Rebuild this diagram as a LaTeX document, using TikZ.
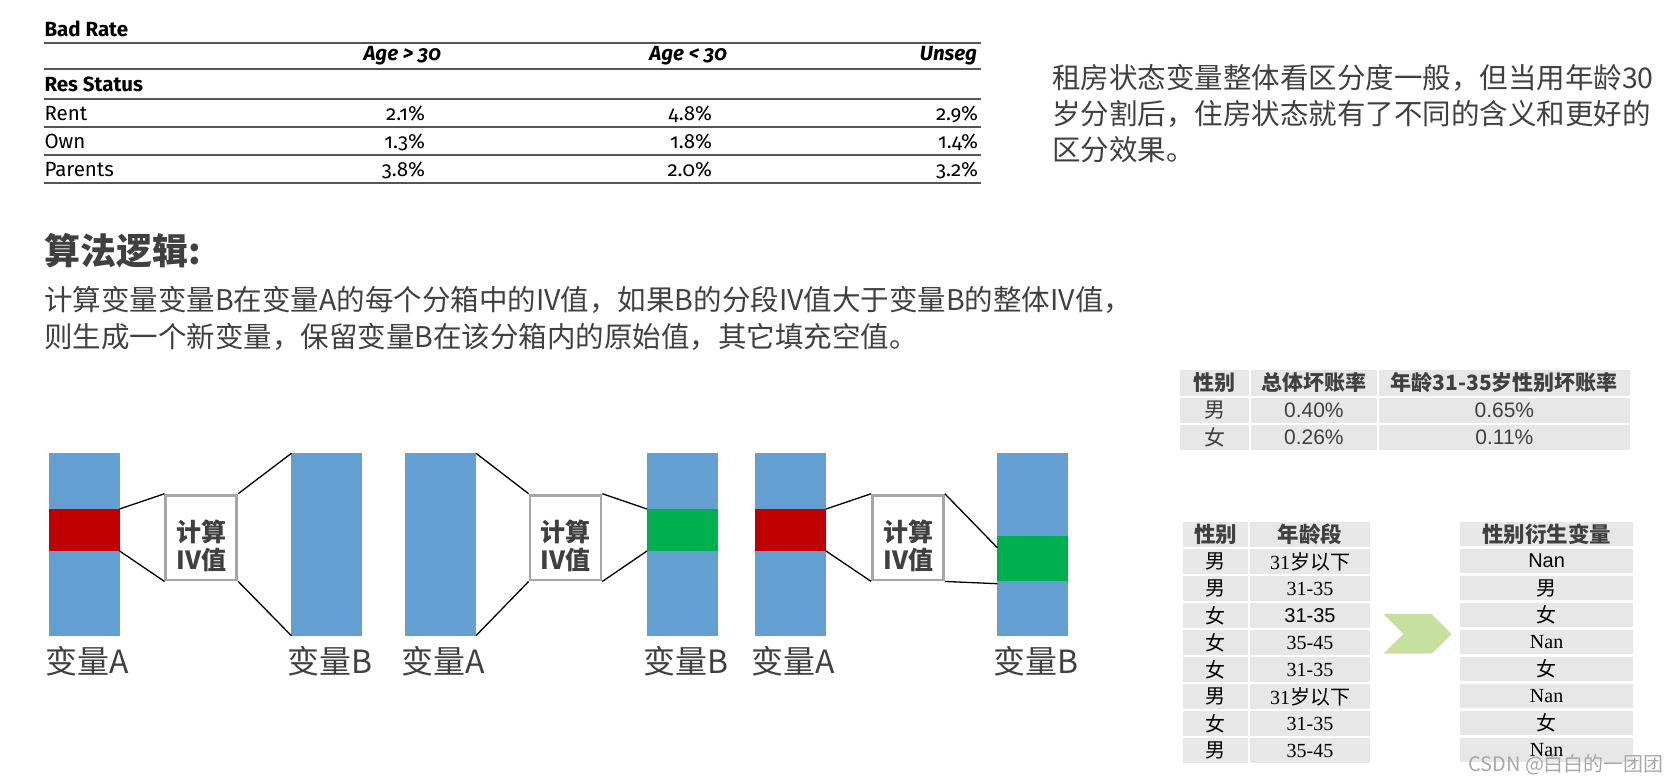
\documentclass[tikz,border=0pt]{standalone}
\usepackage{fontspec}
\setmainfont{Noto Sans CJK SC}
\newfontfamily\cjk{Noto Sans CJK SC}
\newfontfamily\fira[Numbers=OldStyle]{Fira Sans}
\newfontfamily\arl{Liberation Sans}
\newfontfamily\tnr{Liberation Serif}
\newcommand\myfs[1]{\fontsize{#1}{#1}\selectfont}
\definecolor{txt}{HTML}{404040}
\definecolor{barblue}{HTML}{639FD1}
\definecolor{barred}{HTML}{C00000}
\definecolor{bargreen}{HTML}{00B050}
\definecolor{boxgray}{HTML}{A6A6A6}
\definecolor{cellgray}{HTML}{E7E7E7}
\definecolor{rulegray}{HTML}{555555}
\definecolor{chev}{HTML}{C6E0A0}
\definecolor{wm}{HTML}{A8A8A8}
\begin{document}
\begin{tikzpicture}[x=1pt,y=-1pt,
  tt/.style={inner sep=0pt, outer sep=0pt, text=black, font=\fira\myfs{20.5}},
  tth/.style={tt, font=\fira\bfseries\myfs{20.5}},
  tthi/.style={tt, font=\fira\bfseries\itshape\myfs{20.5}},
  rule/.style={draw=rulegray, line width=1.8pt},
  cn/.style={inner sep=0pt, outer sep=0pt, text=txt, font=\cjk\myfs{28.5}},
  bar/.style={fill=barblue, inner sep=0pt, outer sep=0pt, minimum width=71pt, minimum height=182.4pt, anchor=north west},
  seg/.style={inner sep=0pt, outer sep=0pt, minimum width=71pt, minimum height=42pt, anchor=north west},
  ivbox/.style={draw=boxgray, line width=2.8pt, fill=white, minimum width=70.9pt, minimum height=84.9pt, inner sep=0pt},
  ivtext/.style={inner sep=0pt, align=center, text=txt, font=\cjk\bfseries\fontsize{25}{28.5}\selectfont},
  varlbl/.style={inner sep=0pt, anchor=base west, text=txt, font=\cjk\myfs{32}},
  conn/.style={draw=black, line width=1.3pt},
  cell/.style={fill=cellgray, inner sep=0pt, outer sep=0pt, minimum height=24.6pt, text=black, font=\cjk\myfs{20}},
  hcell/.style={cell, text=txt, font=\cjk\bfseries\myfs{21}},
  c1cell/.style={cell, text=txt, font=\cjk\myfs{21}, minimum height=25pt}
]
\useasboundingbox (0,0) rectangle (1673,783);

% ---------------- top table ----------------
\node[tth, anchor=base west] (badrate) at (44.5,37) {Bad Rate};
\draw[rule] (44,43.3) -- (981,43.3);
\node[tthi, anchor=base east] (hage1) at (441,60.5) {Age > 30};
\node[tthi, anchor=base east] (hage2) at (727,60.5) {Age < 30};
\node[tthi, anchor=base east] (hunseg) at (977,60.5) {Unseg};
\draw[rule] (44,69.3) -- (981,69.3);
\node[tth, anchor=base west] (resstatus) at (44.5,91.5) {Res Status};
\draw[rule] (44,99) -- (981,99);
\node[tt, anchor=base west] (rent) at (44.5,120.5) {Rent};
\node[tt, anchor=base east] (v11) at (425,120.5) {2.1\%};
\node[tt, anchor=base east] (v12) at (712,120.5) {4.8\%};
\node[tt, anchor=base east] (v13) at (978,120.5) {2.9\%};
\draw[rule] (44,126.7) -- (981,126.7);
\node[tt, anchor=base west] (own) at (44.5,148.3) {Own};
\node[tt, anchor=base east] (v21) at (425,148.3) {1.3\%};
\node[tt, anchor=base east] (v22) at (712,148.3) {1.8\%};
\node[tt, anchor=base east] (v23) at (978,148.3) {1.4\%};
\draw[rule] (44,155) -- (981,155);
\node[tt, anchor=base west] (parents) at (44.5,176.5) {Parents};
\node[tt, anchor=base east] (v31) at (425,176.5) {3.8\%};
\node[tt, anchor=base east] (v32) at (712,176.5) {2.0\%};
\node[tt, anchor=base east] (v33) at (978,176.5) {3.2\%};
\draw[rule] (44,182.7) -- (981,182.7);

% ---------------- right note ----------------
\node[cn, anchor=base west] (note1) at (1052,88.3) {租房状态变量整体看区分度一般，但当用年龄30};
\node[cn, anchor=base west] (note2) at (1052,124.8) {岁分割后，住房状态就有了不同的含义和更好的};
\node[cn, anchor=base west] (note3) at (1052,160.8) {区分效果。};

% ---------------- heading and description ----------------
\node[inner sep=0pt, anchor=base west, text=txt, font=\cjk\bfseries\myfs{36}] (head) at (44,264.5) {算法逻辑:};
\node[cn, anchor=base west] (desc1) at (44,310.5) {计算变量变量B在变量A的每个分箱中的IV值，如果B的分段IV值大于变量B的整体IV值，};
\node[cn, anchor=base west] (desc2) at (44,347.5) {则生成一个新变量，保留变量B在该分箱内的原始值，其它填充空值。};

% ---------------- bars ----------------
\node[bar] (a1) at (48.6,453.3) {};
\node[seg, fill=barred] (a1s) at (48.6,509) {};
\node[bar] (bb1) at (291.4,453.3) {};
\node[bar] (a2) at (405,453.3) {};
\node[bar] (bb2) at (647,453.3) {};
\node[seg, fill=bargreen] (bb2s) at (647,509) {};
\node[bar] (a3) at (755,453.3) {};
\node[seg, fill=barred] (a3s) at (755,509) {};
\node[bar] (bb3) at (997.3,453.3) {};
\node[seg, fill=bargreen, minimum height=44.7pt] (bb3s) at (997.3,536) {};

\coordinate (bb3p) at (997.3,547.7);
\coordinate (bb3q) at (997.3,583.7);

% boxes
\node[ivbox] (box1) at (201.3,537.6) {};
\node[ivbox] (box2) at (565.5,537.6) {};
\node[ivbox] (box3) at (908,537.6) {};
\node[ivtext] (box1t) at (201.5,546) {计算\\IV值};
\node[ivtext] (box2t) at (565.7,546) {计算\\IV值};
\node[ivtext] (box3t) at (908.2,546) {计算\\IV值};

% connectors
\draw[conn] (a1s.north east) -- (box1.north west);
\draw[conn] (a1s.south east) -- (box1.south west);
\draw[conn] (box1.north east) -- (bb1.north west);
\draw[conn] (box1.south east) -- (bb1.south west);
\draw[conn] (a2.north east) -- (box2.north west);
\draw[conn] (a2.south east) -- (box2.south west);
\draw[conn] (box2.north east) -- (bb2s.north west);
\draw[conn] (box2.south east) -- (bb2s.south west);
\draw[conn] (a3s.north east) -- (box3.north west);
\draw[conn] (a3s.south east) -- (box3.south west);
\draw[conn] (box3.north east) -- (bb3p);
\draw[conn] (box3.south east) -- (bb3q);

% labels
\node[varlbl] (la1) at (45,673.5) {变量A};
\node[varlbl] (lb1) at (287.5,673.5) {变量B};
\node[varlbl] (la2) at (401,673.5) {变量A};
\node[varlbl] (lb2) at (643,673.5) {变量B};
\node[varlbl] (la3) at (751,673.5) {变量A};
\node[varlbl] (lb3) at (993.5,673.5) {变量B};

% ---------------- table 1 ----------------
\node[hcell, minimum width=69pt, minimum height=25.7pt] (t1h1) at (1214.5,382.85) {性别};
\node[hcell, minimum width=125.7pt, minimum height=25.7pt] (t1h2) at (1313.85,382.85) {总体坏账率};
\node[hcell, minimum width=251.3pt, minimum height=25.7pt] (t1h3) at (1504.35,382.85) {年龄31-35岁性别坏账率};
\node[c1cell, minimum width=69pt] (t1r1c1) at (1214.5,410.2) {男};
\node[c1cell, minimum width=125.7pt, font=\arl\myfs{21}] (t1r1c2) at (1313.85,410.2) {0.40\%};
\node[c1cell, minimum width=251.3pt, font=\arl\myfs{21}] (t1r1c3) at (1504.35,410.2) {0.65\%};
\node[c1cell, minimum width=69pt] (t1r2c1) at (1214.5,437.5) {女};
\node[c1cell, minimum width=125.7pt, font=\arl\myfs{21}] (t1r2c2) at (1313.85,437.5) {0.26\%};
\node[c1cell, minimum width=251.3pt, font=\arl\myfs{21}] (t1r2c3) at (1504.35,437.5) {0.11\%};

% ---------------- table 2 ----------------
\node[hcell, minimum width=64.4pt, font=\cjk\bfseries\myfs{21.5}] (t2h1) at (1215.5,534.6) {性别};
\node[hcell, minimum width=120pt, font=\cjk\bfseries\myfs{21.5}] (t2h2) at (1310,534.6) {年龄段};
\foreach \i/\g/\a in {1/男/{\tnr 31}岁以下, 2/男/{\tnr 31-35}, 3/女/{\arl 31-35}, 4/女/{\tnr 35-45},
                      5/女/{\tnr 31-35}, 6/男/{\tnr 31}岁以下, 7/女/{\tnr 31-35}, 8/男/{\tnr 35-45}} {
  \node[cell, minimum width=64.4pt] (t2r\i c1) at (1215.5,534.6+27*\i) {\g};
  \node[cell, minimum width=120pt] (t2r\i c2) at (1310,534.6+27*\i) {\a};
}

% ---------------- table 3 ----------------
\node[hcell, minimum width=173.3pt, font=\cjk\bfseries\myfs{21.5}] (t3h) at (1546.6,534.1) {性别衍生变量};
\foreach \i/\v in {1/{\arl Nan}, 2/男, 3/女, 4/{\tnr Nan}, 5/女, 6/{\tnr Nan}, 7/女, 8/{\tnr Nan}} {
  \node[cell, minimum width=173.3pt] (t3r\i) at (1546.6,534.1+27*\i) {\v};
}

% arrow chevron
\fill[chev] (1383.3,614) -- (1431.7,614) -- (1451.7,634) -- (1431.7,653.7) -- (1383.3,653.7) -- (1403.3,634) -- cycle;

% watermark
\node[inner sep=0pt, anchor=west, text=wm, font=\cjk\myfs{20}] (wmark) at (1468,765) {CSDN @白白的一团团};
\end{tikzpicture}
\end{document}
